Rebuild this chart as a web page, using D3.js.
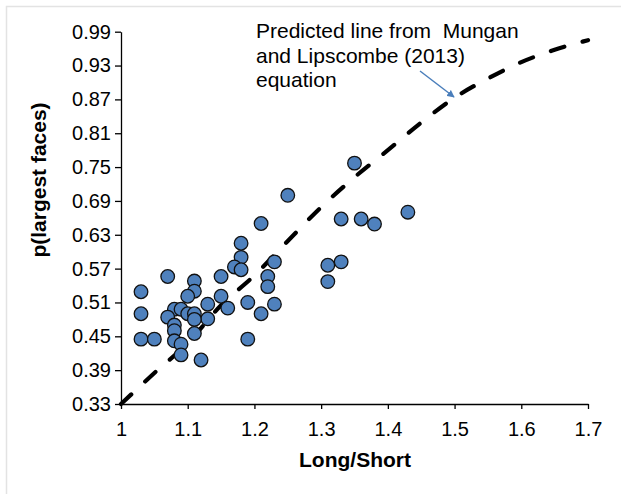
<!DOCTYPE html>
<html><head><meta charset="utf-8">
<script src="https://cdn.jsdelivr.net/npm/d3@7"></script>
<style>body{margin:0;background:#fff}svg{display:block}text{font-family:"Liberation Sans",Arial,sans-serif}</style>
</head><body>
<svg id="chart" width="621" height="494"></svg>
<script>
// Observed points (Long/Short ratio, p(largest faces))
const obsX = [1.25,1.21,1.18,1.18,1.17,1.18,1.23,1.22,1.22,1.15,1.15,1.16,1.19,1.21,1.23,1.19,1.13,1.13,1.12,1.07,
              1.03,1.03,1.03,1.05,1.11,1.11,1.10,1.08,1.09,1.10,1.11,1.11,1.07,1.08,1.08,1.08,1.09,1.09,1.11,
              1.35,1.33,1.36,1.38,1.43,1.31,1.33,1.31];
const obsY = [0.700,0.650,0.615,0.590,0.573,0.568,0.582,0.556,0.538,0.556,0.521,0.500,0.510,0.490,0.507,0.445,0.507,0.481,0.408,0.556,
              0.529,0.490,0.445,0.445,0.548,0.530,0.521,0.498,0.498,0.490,0.490,0.480,0.484,0.470,0.460,0.442,0.436,0.417,0.455,
              0.757,0.658,0.658,0.649,0.670,0.576,0.582,0.547];
// Predicted line
const predX = [1.00,1.05,1.10,1.15,1.20,1.25,1.30,1.35,1.40,1.45,1.50,1.55,1.60,1.65,1.70];
const predY = [0.330,0.385,0.438,0.505,0.558,0.619,0.679,0.732,0.780,0.829,0.873,0.907,0.936,0.958,0.975];
// Tick labels
const xTicks = [1,1.1,1.2,1.3,1.4,1.5,1.6,1.7];
const yTicks = [0.33,0.39,0.45,0.51,0.57,0.63,0.69,0.75,0.81,0.87,0.93,0.99];

const svg = d3.select("#chart");
// light frame
svg.append("path").attr("d","M6.5,494 V6.5 H621").attr("fill","none").attr("stroke","#e3e3e3").attr("stroke-width",1.5);

const x = d3.scaleLinear().domain([1,1.7]).range([121,588]);
const y = d3.scaleLinear().domain([0.33,0.99]).range([404,31.7]);

const gx = svg.append("g").attr("transform","translate(0,404)")
  .call(d3.axisBottom(x).tickValues(xTicks).tickFormat(d=>String(d)).tickSize(5).tickSizeOuter(0));
const gy = svg.append("g").attr("transform","translate(121,0)")
  .call(d3.axisLeft(y).tickValues(yTicks).tickFormat(d3.format(".2f")).tickSize(6).tickSizeOuter(0));
[gx,gy].forEach(g=>{
  g.select(".domain").attr("stroke","#000").attr("stroke-width",1.3);
  g.selectAll(".tick line").attr("stroke","#000").attr("stroke-width",1.3);
  g.selectAll(".tick text").attr("fill","#000").style("font-size","20px").style("font-family","'Liberation Sans',Arial,sans-serif");
});
gx.selectAll(".tick text").attr("dy","0.71em").attr("y",18);
gy.selectAll(".tick text").attr("x",-10);

// Predicted dashed line
const line = d3.line().x((d,i)=>x(predX[i])).y((d,i)=>y(predY[i])).curve(d3.curveMonotoneX);
svg.append("path").datum(predX).attr("d",line).attr("fill","none")
  .attr("stroke","#000").attr("stroke-width",4.2).attr("stroke-dasharray","14,19").attr("stroke-linecap","round");

// Points
svg.append("g").selectAll("circle").data(obsX).join("circle")
  .attr("cx",(d,i)=>x(obsX[i])).attr("cy",(d,i)=>y(obsY[i])).attr("r",6.8)
  .attr("fill","#4f81bd").attr("stroke","#111").attr("stroke-width",1.3);

// Axis titles
svg.append("text").attr("x",355).attr("y",467).attr("text-anchor","middle")
  .style("font-size","21px").style("font-weight","bold").text("Long/Short");
svg.append("text").attr("transform","translate(46,180) rotate(-90)").attr("text-anchor","middle")
  .style("font-size","21px").style("font-weight","bold").text("p(largest faces)");

// Annotation
const ann = svg.append("text").style("font-size","21px").attr("fill","#000");
["Predicted line from  Mungan","and Lipscombe (2013)","equation"].forEach((t,i)=>{
  ann.append("tspan").attr("x",256).attr("y",38+i*24.5).style("white-space","pre").text(t);
});
svg.append("defs").append("marker").attr("id","ah").attr("viewBox","0 0 10 10").attr("refX",9).attr("refY",5)
  .attr("markerWidth",5).attr("markerHeight",5).attr("orient","auto")
  .append("path").attr("d","M0,0 L10,5 L0,10 z").attr("fill","#4a7ebb");
svg.append("line").attr("x1",420).attr("y1",71).attr("x2",454).attr("y2",97)
  .attr("stroke","#4a7ebb").attr("stroke-width",1.5).attr("marker-end","url(#ah)");
</script>
</body></html>
